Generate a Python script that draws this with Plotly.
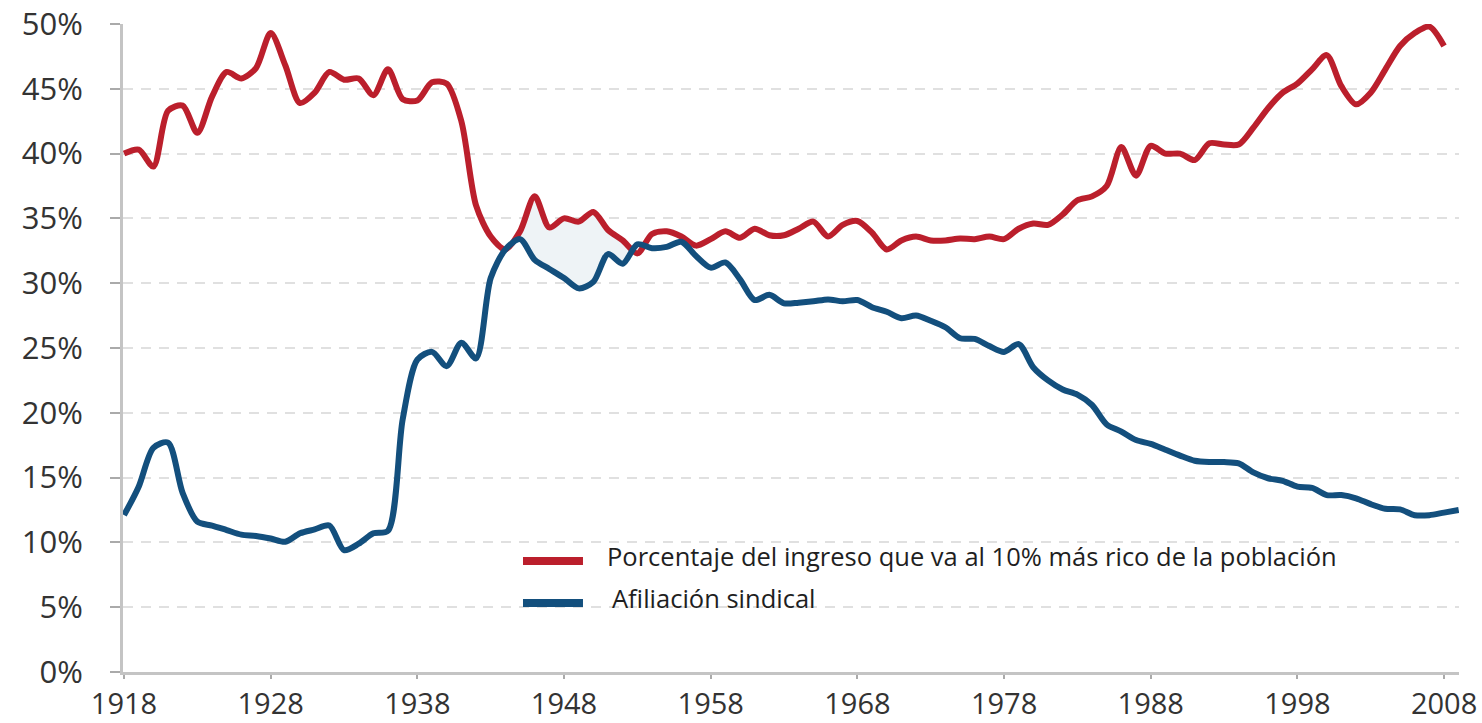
import plotly.graph_objects as go

# ---------------- data ----------------
red_years = list(range(1918, 2009))
red_values = [
    40.0, 40.3, 39.0, 43.3, 43.7, 41.6, 44.4, 46.3, 45.8, 46.6,   # 1918-1927
    49.3, 46.8, 43.9, 44.7, 46.3, 45.7, 45.8, 44.5, 46.5, 44.2,   # 1928-1937
    44.1, 45.5, 45.4, 42.5, 36.0, 33.6, 32.6, 34.0, 36.7, 34.3,   # 1938-1947
    35.0, 34.75, 35.5, 34.1, 33.3, 32.3, 33.8, 34.0, 33.6, 32.9,  # 1948-1957
    33.4, 34.0, 33.5, 34.2, 33.7, 33.7, 34.2, 34.75, 33.6, 34.5,  # 1958-1967
    34.8, 33.9, 32.6, 33.3, 33.6, 33.3, 33.3, 33.45, 33.4, 33.6,  # 1968-1977
    33.4, 34.2, 34.6, 34.5, 35.3, 36.4, 36.7, 37.5, 40.5, 38.3,   # 1978-1987
    40.6, 40.0, 40.0, 39.5, 40.8, 40.7, 40.7, 42.0, 43.5, 44.7,   # 1988-1997
    45.4, 46.5, 47.6, 45.2, 43.8, 44.7, 46.5, 48.3, 49.3, 49.8,   # 1998-2007
    48.3,                                                          # 2008
]

blue_years = list(range(1918, 2010))
blue_values = [
    12.1, 14.3, 17.3, 17.7, 13.8, 11.6, 11.3, 10.95, 10.6, 10.5,  # 1918-1927
    10.3, 10.05, 10.7, 11.0, 11.3, 9.4, 9.9, 10.7, 10.9, 19.5,    # 1928-1937
    24.1, 24.7, 23.6, 25.4, 24.2, 30.4, 32.6, 33.4, 31.8, 31.1,   # 1938-1947
    30.4, 29.6, 30.1, 32.25, 31.5, 33.0, 32.7, 32.8, 33.2, 32.1,  # 1948-1957
    31.2, 31.6, 30.3, 28.7, 29.1, 28.45, 28.5, 28.6, 28.75, 28.6, # 1958-1967
    28.7, 28.15, 27.8, 27.3, 27.5, 27.1, 26.6, 25.75, 25.7, 25.15,# 1968-1977
    24.7, 25.3, 23.5, 22.5, 21.8, 21.4, 20.6, 19.1, 18.55, 17.9,  # 1978-1987
    17.6, 17.15, 16.7, 16.3, 16.2, 16.2, 16.1, 15.4, 14.95, 14.75,# 1988-1997
    14.3, 14.2, 13.65, 13.65, 13.4, 12.95, 12.6, 12.55, 12.1, 12.1,# 1998-2007
    12.3, 12.5,                                                    # 2008-2009
]

# shaded gap between the two series
gap_start, gap_end = 1944, 1953

y_tickvals = [0, 5, 10, 15, 20, 25, 30, 35, 40, 45, 50]
y_ticktext = ["0%", "5%", "10%", "15%", "20%", "25%", "30%", "35%", "40%", "45%", "50%"]
x_tickvals = [1918, 1928, 1938, 1948, 1958, 1968, 1978, 1988, 1998, 2008]

legend_labels = [
    "Porcentaje del ingreso que va al 10% más rico de la población",
    "Afiliación sindical",
]

RED = "#bb1f2c"
BLUE = "#134f7d"
FILL = "#eef3f6"
FONT = "Open Sans"

# ---------------- figure ----------------
fig = go.Figure()

gap_years = [y for y in red_years if gap_start <= y <= gap_end]
gap_blue = [blue_values[blue_years.index(y)] for y in gap_years]
gap_red = [red_values[red_years.index(y)] for y in gap_years]

fig.add_trace(go.Scatter(x=gap_years, y=gap_blue, mode="lines",
                         line=dict(width=0, shape="spline", smoothing=0.8),
                         hoverinfo="skip", showlegend=False))
fig.add_trace(go.Scatter(x=gap_years, y=gap_red, mode="lines",
                         line=dict(width=0, shape="spline", smoothing=0.8),
                         fill="tonexty", fillcolor=FILL,
                         hoverinfo="skip", showlegend=False))

fig.add_trace(go.Scatter(x=red_years, y=red_values, mode="lines",
                         name=legend_labels[0],
                         line=dict(color=RED, width=6, shape="spline", smoothing=0.8),
                         showlegend=False))
fig.add_trace(go.Scatter(x=blue_years, y=blue_values, mode="lines",
                         name=legend_labels[1],
                         line=dict(color=BLUE, width=6, shape="spline", smoothing=0.8),
                         showlegend=False))

# manual legend (paper coordinates)
legend_rows = [(0.1713, RED, legend_labels[0], 0.3608),
               (0.1065, BLUE, legend_labels[1], 0.3645)]
for yy, col, label, tx in legend_rows:
    fig.add_shape(type="line", xref="paper", yref="paper",
                  x0=0.2994, x1=0.3443, y0=yy, y1=yy,
                  line=dict(color=col, width=8))
    fig.add_annotation(xref="paper", yref="paper", x=tx, y=yy + 0.008,
                       text=label, showarrow=False, xanchor="left", yanchor="middle",
                       font=dict(family=FONT, size=25.5, color="#1f1f1f"))

fig.update_layout(
    width=1482, height=723,
    margin=dict(l=123, r=23, t=24, b=51, autoexpand=False),
    paper_bgcolor="white", plot_bgcolor="white",
    showlegend=False,
    font=dict(family=FONT, color="#333333"),
)

fig.update_xaxes(
    range=[1917.93, 2009.02],
    tickvals=x_tickvals,
    ticktext=[str(v) for v in x_tickvals],
    showgrid=False, zeroline=False,
    showline=True, linecolor="#c4c4c4", linewidth=3,
    ticks="outside", ticklen=4, tickwidth=1.5, tickcolor="#aaaaaa",
    tickfont=dict(family=FONT, size=29, color="#333333"),
    ticklabelstandoff=0,
    automargin=False,
)
fig.update_yaxes(
    range=[0, 50],
    tickvals=y_tickvals, ticktext=y_ticktext,
    showgrid=True, gridcolor="#e0e0e0", gridwidth=2, griddash="10px,8px",
    zeroline=False,
    showline=True, linecolor="#c4c4c4", linewidth=3,
    ticks="outside", ticklen=10, tickwidth=2, tickcolor="#aaaaaa",
    tickfont=dict(family=FONT, size=31, color="#333333"),
    ticklabelstandoff=21,
    automargin=False,
)

# remove the default 8px page margin so the 1482x723 figure fills the window exactly
fig.write_html("out.html",
               config={"displayModeBar": False},
               post_script="document.body.style.margin='0';document.body.style.overflow='hidden';")
